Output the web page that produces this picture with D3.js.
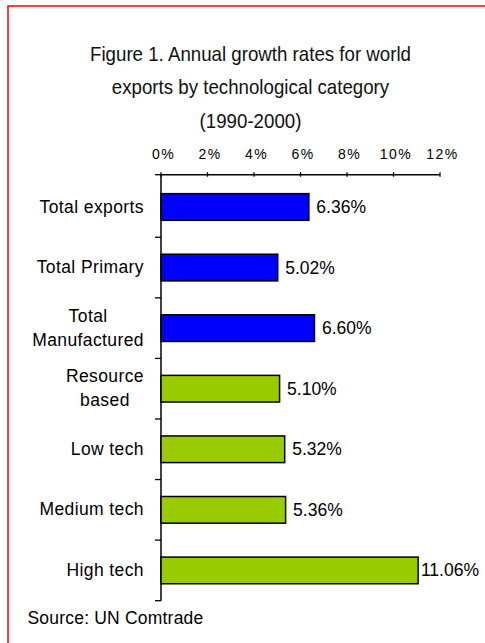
<!DOCTYPE html>
<html>
<head>
<meta charset="utf-8">
<script src="https://cdn.jsdelivr.net/npm/d3@7/dist/d3.min.js"></script>
<style>
  html, body { margin: 0; padding: 0; background: #fff; }
  svg { display: block; }
</style>
</head>
<body>
<div id="chart"></div>
<script>
const categories = ["Total exports", "Total Primary", "Total\nManufactured", "Resource\nbased", "Low tech", "Medium tech", "High tech"];
const values = [6.36, 5.02, 6.60, 5.10, 5.32, 5.36, 11.06];
const groups = ["total", "total", "total", "tech", "tech", "tech", "tech"];
const tickValues = [0, 2, 4, 6, 8, 10, 12];
const titleLines = ["Figure 1. Annual growth rates for world", "exports by technological category", "(1990-2000)"];
const sourceText = "Source: UN Comtrade";

const W = 485, H = 643;
const colors = { total: "#0000FF", tech: "#99CC00" };

const svg = d3.select("#chart").append("svg").attr("width", W).attr("height", H);

svg.append("rect").attr("x", 8).attr("y", 6).attr("width", W + 20).attr("height", H + 20)
  .attr("fill", "#fff").attr("stroke", "#FF0000").attr("stroke-width", 1.5);

// title: Arial-metric font, horizontally condensed like Arial Narrow
const titleG = svg.append("g");
const tTexts = titleLines.map((t, i) => titleG.append("text").attr("x", 0).attr("y", 61 + i * 33.5)
  .attr("text-anchor", "middle")
  .style("font-family", "'Liberation Sans', Arial, sans-serif")
  .style("font-size", "20.5px").attr("fill", "#111").text(t));
const w0 = tTexts[0].node().getComputedTextLength();
const k = 321 / w0;
titleG.attr("transform", `translate(250.5,0) scale(${k},1)`);

const x = d3.scaleLinear().domain([0, 12]).range([161, 440]);
const y = d3.scaleBand().domain(categories).range([176.7, 600.7]).padding(0);

// x axis (top)
const xAxis = svg.append("g").attr("transform", "translate(0,174.7)");
xAxis.append("line").attr("x1", x(0)).attr("x2", x(12)).attr("y1", 0).attr("y2", 0)
  .attr("stroke", "#000").attr("stroke-width", 1.5);
xAxis.selectAll("line.tick").data(tickValues).join("line").attr("class", "tick")
  .attr("x1", d => x(d)).attr("x2", d => x(d)).attr("y1", -2.5).attr("y2", 2)
  .attr("stroke", "#000").attr("stroke-width", 1.3);
xAxis.selectAll("text").data(tickValues).join("text")
  .attr("x", d => x(d) + 2.5).attr("y", -15.4).attr("text-anchor", "middle")
  .style("font-family", "'Liberation Sans', Arial, sans-serif").style("font-size", "14px")
  .style("letter-spacing", "1.5px").attr("fill", "#000").text(d => d + "%");

// y axis (left)
const yAxis = svg.append("g");
yAxis.append("line").attr("x1", 161).attr("x2", 161).attr("y1", 174.7).attr("y2", 600.7)
  .attr("stroke", "#000").attr("stroke-width", 1.5);
const bounds = categories.map(c => y(c)).concat([y.range()[1]]);
bounds[0] = 174.7;
yAxis.selectAll("line.tick").data(bounds).join("line").attr("class", "tick")
  .attr("x1", 155).attr("x2", 161).attr("y1", d => d).attr("y2", d => d)
  .attr("stroke", "#000").attr("stroke-width", 1.3);

// category labels
const labelFont = "'Liberation Sans', Arial, sans-serif";
categories.forEach(c => {
  const lines = c.split("\n");
  const cy = y(c) + y.bandwidth() / 2;
  const g = yAxis.append("g");
  const texts = lines.map((ln, i) => g.append("text")
    .attr("y", cy + 5.6 + (i - (lines.length - 1) / 2) * 24)
    .attr("text-anchor", "middle")
    .style("font-family", labelFont).style("font-size", "17.5px").style("letter-spacing", "0.4px")
    .attr("fill", "#000").text(ln));
  const widths = texts.map(t => t.node().getComputedTextLength());
  const bw = d3.max(widths);
  const right = 144;
  texts.forEach(t => t.attr("x", right - bw / 2));
});

// bars
const bh = y.bandwidth() * 0.44;
svg.append("g").selectAll("rect").data(values).join("rect")
  .attr("x", x(0)).attr("y", (d, i) => y(categories[i]) + (y.bandwidth() - bh) / 2)
  .attr("width", d => x(d) - x(0)).attr("height", bh)
  .attr("fill", (d, i) => colors[groups[i]]).attr("stroke", "#000").attr("stroke-width", 1.5);

// value labels
svg.append("g").selectAll("text").data(values).join("text")
  .attr("y", (d, i) => y(categories[i]) + y.bandwidth() / 2 + 6)
  .style("font-family", labelFont).style("font-size", "17.5px")
  .attr("fill", "#000").text(d => d.toFixed(2) + "%")
  .each(function(d) {
    const w = this.getComputedTextLength();
    let px = x(d) + 7.5;
    if (px + w > 479) px = 479 - w;
    d3.select(this).attr("x", px);
  });

svg.append("text").attr("x", 27.5).attr("y", 624)
  .style("font-family", labelFont).style("font-size", "17.5px").style("letter-spacing", "0.2px")
  .attr("fill", "#000").text(sourceText);
</script>
</body>
</html>
